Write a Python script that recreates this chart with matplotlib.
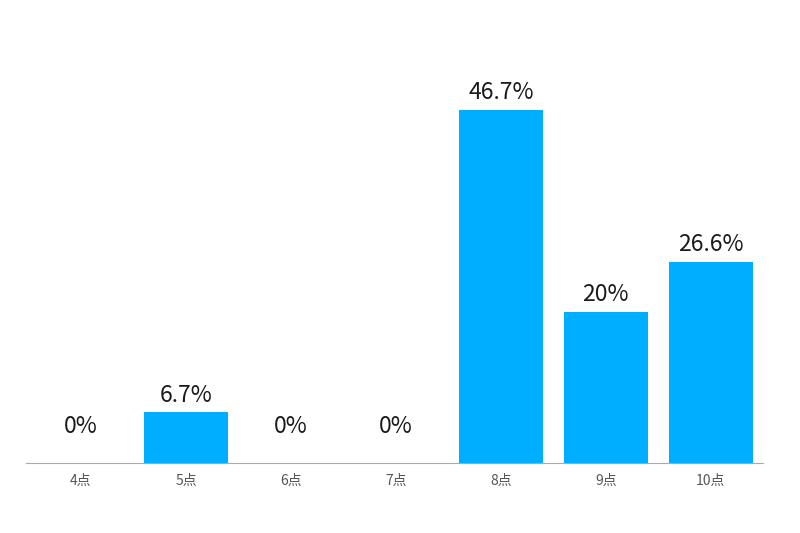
import matplotlib.pyplot as plt

plt.rcParams['font.family'] = ['Noto Sans CJK JP', 'DejaVu Sans']

categories = ['4点', '5点', '6点', '7点', '8点', '9点', '10点']
values = [0, 6.7, 0, 0, 46.7, 20, 26.6]
labels = ['0%', '6.7%', '0%', '0%', '46.7%', '20%', '26.6%']

fig = plt.figure(figsize=(8, 5.33), dpi=100)
ax = fig.add_axes([0.033, 0.131, 0.921, 0.71])

x = range(len(categories))
ax.bar(x, values, width=0.8, color='#00aeff')

for i, v in enumerate(values):
    off = 18 if v == 0 else 4
    ax.annotate(labels[i], (i, v), xytext=(0, off), textcoords='offset points',
                ha='center', va='bottom', fontsize=16.5, color='#1a1a1a')

ax.set_xlim(-0.52, 6.5)
ax.set_ylim(0, 50)
ax.set_xticks(list(x))
ax.set_xticklabels(categories, fontsize=10, color='#555555')
ax.tick_params(axis='x', length=0, pad=8)
ax.set_yticks([])
for s in ['top', 'right', 'left']:
    ax.spines[s].set_visible(False)
ax.spines['bottom'].set_color('#aaaaaa')

fig.savefig('out.png', dpi=100)
